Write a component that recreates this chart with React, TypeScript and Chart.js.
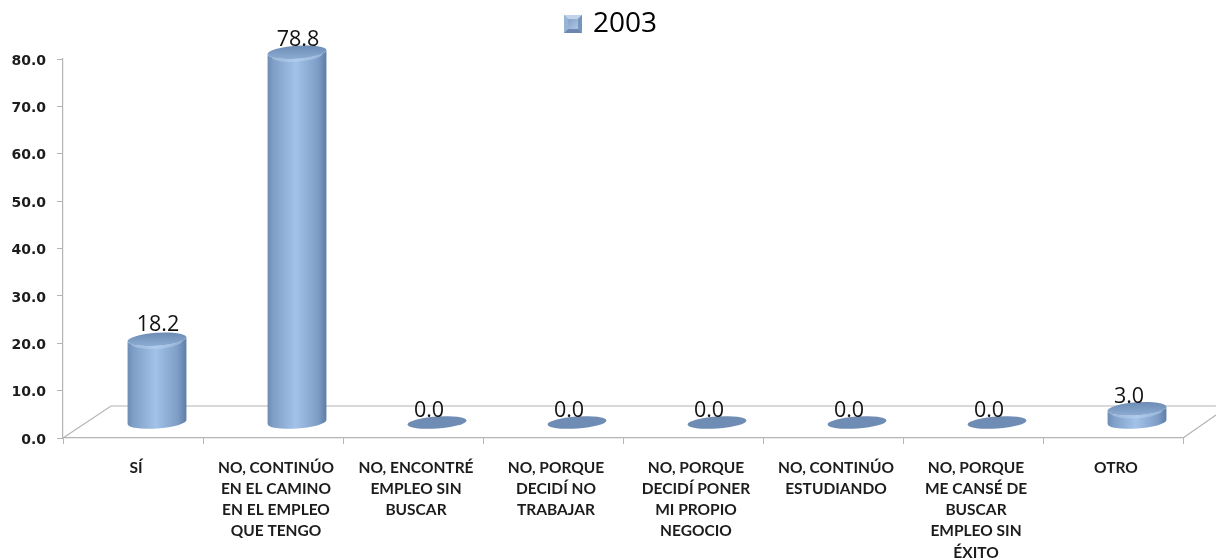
import React, { useEffect, useRef } from "react";
import { Chart, registerables } from "chart.js";

Chart.register(...registerables);

const seriesName = "2003";
const categories: string[][] = [
  ["SÍ"],
  ["NO, CONTINÚO", "EN EL CAMINO", "EN EL EMPLEO", "QUE TENGO"],
  ["NO, ENCONTRÉ", "EMPLEO SIN", "BUSCAR"],
  ["NO, PORQUE", "DECIDÍ NO", "TRABAJAR"],
  ["NO, PORQUE", "DECIDÍ PONER", "MI PROPIO", "NEGOCIO"],
  ["NO, CONTINÚO", "ESTUDIANDO"],
  ["NO, PORQUE", "ME CANSÉ DE", "BUSCAR", "EMPLEO SIN", "ÉXITO"],
  ["OTRO"],
];
const values: number[] = [18.2, 78.8, 0, 0, 0, 0, 0, 3.0];

const AXIS_COLOR = "#b4b4b4";

function makeLegendSwatch() {
  const c = document.createElement("canvas");
  c.width = 18;
  c.height = 18;
  const g = c.getContext("2d")!;
  g.fillStyle = "#8aa6cb";
  g.fillRect(0, 0, 18, 18);
  g.fillStyle = "#c0d3ea";
  g.beginPath(); g.moveTo(0, 0); g.lineTo(18, 0); g.lineTo(14, 4); g.lineTo(4, 4); g.closePath(); g.fill();
  g.fillStyle = "#6987b0";
  g.beginPath(); g.moveTo(0, 18); g.lineTo(18, 18); g.lineTo(14, 14); g.lineTo(4, 14); g.closePath(); g.fill();
  g.fillStyle = "#9ab4d5";
  g.beginPath(); g.moveTo(0, 0); g.lineTo(4, 4); g.lineTo(4, 14); g.lineTo(0, 18); g.closePath(); g.fill();
  g.fillStyle = "#7896bd";
  g.beginPath(); g.moveTo(18, 0); g.lineTo(14, 4); g.lineTo(14, 14); g.lineTo(18, 18); g.closePath(); g.fill();
  const gr = g.createLinearGradient(4, 4, 14, 14);
  gr.addColorStop(0, "#85a2c8");
  gr.addColorStop(1, "#adc6e5");
  g.fillStyle = gr;
  g.fillRect(4, 4, 10, 10);
  return c;
}

const floorPlugin = {
  id: "floor",
  beforeDatasetsDraw(chart: any) {
    const { ctx, chartArea: a } = chart;
    ctx.save();
    ctx.strokeStyle = AXIS_COLOR;
    ctx.lineWidth = 1.2;
    ctx.beginPath();
    ctx.moveTo(a.left, a.bottom);
    ctx.lineTo(a.left + 48, a.bottom - 32);
    ctx.lineTo(chart.width, a.bottom - 32);
    ctx.moveTo(a.right, a.bottom);
    ctx.lineTo(a.right + 33, a.bottom - 23);
    ctx.stroke();
    ctx.restore();
  },
};

const cylinderPlugin = {
  id: "cylinders",
  afterDatasetsDraw(chart: any) {
    const { ctx } = chart;
    const meta = chart.getDatasetMeta(0);
    const rx = 29.5;
    const ry = 6.5;
    const rot = -0.07;
    meta.data.forEach((el: any, i: number) => {
      const v = values[i];
      const cx = el.x + 24;
      const baseY = el.base - 15.5;
      ctx.save();
      if (v === 0) {
        ctx.fillStyle = "#6f8cb4";
        ctx.beginPath();
        ctx.ellipse(cx, baseY, rx, ry - 0.5, rot, 0, Math.PI * 2);
        ctx.fill();
      } else {
        const h = el.base - el.y;
        const topY = el.y - 15.5 + 3 * Math.min(1, h / 86);
        const g = ctx.createLinearGradient(cx - rx, 0, cx + rx, 0);
        g.addColorStop(0, "#6e8db6");
        g.addColorStop(0.1, "#7f9fc8");
        g.addColorStop(0.48, "#a3c2e8");
        g.addColorStop(0.85, "#7f9ec7");
        g.addColorStop(1, "#5e7da6");
        ctx.fillStyle = g;
        ctx.beginPath();
        ctx.ellipse(cx, baseY, rx, ry, rot, 0, Math.PI);
        ctx.ellipse(cx, topY, rx, ry, rot, Math.PI, 0, true);
        ctx.closePath();
        ctx.fill();
        // lit rim under the cap
        ctx.strokeStyle = "rgba(196,220,246,0.4)";
        ctx.lineWidth = 3;
        ctx.beginPath();
        ctx.ellipse(cx, topY + 1.5, rx - 4, ry, rot, 0.3, Math.PI - 0.3);
        ctx.stroke();
        // cap
        const c = ctx.createLinearGradient(0, topY - ry, 0, topY + ry);
        c.addColorStop(0, "#6d8cb5");
        c.addColorStop(1, "#8cabd2");
        ctx.fillStyle = c;
        ctx.beginPath();
        ctx.ellipse(cx, topY, rx, ry, rot, 0, Math.PI * 2);
        ctx.fill();
      }
      // value label
      const shift = v < 5 ? -9 : 0;
      const lift = v > 50 ? 25 : 27;
      ctx.fillStyle = "#111111";
      ctx.font = '21.5px "Open Sans"';
      ctx.textAlign = "center";
      ctx.textBaseline = "middle";
      ctx.fillText(v.toFixed(1), cx + shift + 1, el.y - lift);
      ctx.restore();
    });
  },
};

export default function App() {
  const ref = useRef<HTMLCanvasElement>(null);
  useEffect(() => {
    const swatch = makeLegendSwatch();
    const sizePlugin = {
      id: "legendSize",
      beforeUpdate(chart: any) {
        const legend = chart.legend;
        if (legend && !legend.__sized) {
          legend.__sized = true;
          const fit = legend.fit;
          legend.fit = function () {
            fit.call(this);
            this.height = 59;
          };
          const draw = legend.draw;
          legend.draw = function () {
            this.ctx.save();
            this.ctx.translate(20.5, 1);
            draw.call(this);
            this.ctx.restore();
          };
        }
      },
    };
    const chart = new Chart(ref.current!, {
      type: "bar",
      data: {
        labels: categories as any,
        datasets: [
          {
            label: seriesName,
            data: values,
            backgroundColor: "rgba(0,0,0,0)",
            borderWidth: 0,
          },
        ],
      },
      options: {
        responsive: false,
        animation: false,
        layout: { padding: { left: 0, right: 33, top: 0, bottom: 0 } },
        plugins: {
          tooltip: { enabled: false },
          legend: {
            display: true,
            position: "top",
            labels: {
              usePointStyle: true,
              pointStyleWidth: 12,
              padding: 9,
              color: "#111111",
              font: { family: '"Open Sans"', size: 28 },
              generateLabels: () => [
                {
                  text: seriesName,
                  pointStyle: swatch,
                  fillStyle: "#7f9cc4",
                  strokeStyle: "#7f9cc4",
                  lineWidth: 0,
                  datasetIndex: 0,
                  hidden: false,
                } as any,
              ],
            },
          },
        },
        scales: {
          x: {
            grid: {
              drawOnChartArea: false,
              drawTicks: true,
              tickLength: 6,
              color: AXIS_COLOR,
            },
            border: { color: AXIS_COLOR, width: 1.2 },
            ticks: {
              maxRotation: 0,
              autoSkip: false,
              color: "#1c1c1c",
              padding: 13,
              labelOffset: 3,
              font: { family: "Lato", weight: "bold", size: 15.5, lineHeight: 1.37 },
            },
            afterFit(s: any) {
              s.height = 122;
            },
          },
          y: {
            min: 0,
            max: 80,
            grid: {
              drawOnChartArea: false,
              drawTicks: true,
              tickLength: 6,
              color: AXIS_COLOR,
            },
            border: { color: AXIS_COLOR, width: 1.2 },
            ticks: {
              stepSize: 10,
              padding: 11,
              labelOffset: 2,
              color: "#1c1c1c",
              font: { family: '"DejaVu Sans"', weight: "bold", size: 14 },
              callback: (v: any) => Number(v).toFixed(1),
            },
            afterFit(s: any) {
              s.width = 63;
            },
          },
        },
      },
      plugins: [sizePlugin, floorPlugin, cylinderPlugin],
    } as any);
    return () => chart.destroy();
  }, []);
  return (
    <div style={{ position: "absolute", left: 0, top: 0, width: 1216, height: 560, background: "#fff" }}>
      <canvas ref={ref} width={1216} height={560} style={{ display: "block", filter: "blur(0.45px)" }} />
    </div>
  );
}
